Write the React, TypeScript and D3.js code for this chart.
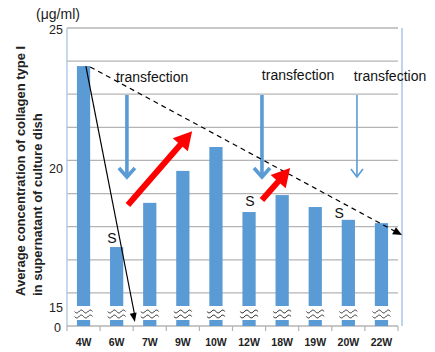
import React from "react";
import * as d3 from "d3";

// weeks after start, mean collagen I concentration (µg/ml)
const categories = ["4W", "6W", "7W", "9W", "10W", "12W", "18W", "19W", "20W", "22W"];
const values = [23.63, 17.12, 18.71, 19.86, 20.72, 18.38, 18.99, 18.56, 18.1, 17.98];
const yTickLabels = [25, 20, 15, 0];
const gridCount = 9;

// annotations, in category-index / value units
const transfectionLabels = [
  { i: 2.07, v: 23.06 },
  { i: 6.48, v: 23.13 },
  { i: 9.26, v: 23.09 },
];
const transfectionArrows = [
  { i: 1.31, from: 22.59, to: 19.64, heavy: true },
  { i: 5.39, from: 22.59, to: 19.64, heavy: true },
  { i: 8.26, from: 22.59, to: 19.64, heavy: false },
];
const riseArrows = [
  { i1: 1.34, v1: 18.63, i2: 3.28, v2: 21.29 },
  { i1: 5.39, v1: 18.81, i2: 6.24, v2: 19.96 },
];
const sLabels = [
  { i: 0.86, v: 17.27 },
  { i: 5.03, v: 18.6 },
  { i: 7.72, v: 18.17 },
];
const dropLine = { i1: 0.07, v1: 23.63, i2: 1.55, v2: 3.0 };
const trendLine = { i1: 0.2, v1: 23.6, i2: 9.62, v2: 17.55 };

const W = 435;
const H = 352;
const left = 67;
const right = 398;
const top = 28;
const bottom = 326;
const font = "'Liberation Sans', Arial, sans-serif";
const barColor = "#5b9bd5";

function head(x1: number, y1: number, x2: number, y2: number, len: number, hw: number) {
  const dx = x2 - x1;
  const dy = y2 - y1;
  const d = Math.hypot(dx, dy);
  const ux = dx / d;
  const uy = dy / d;
  const bx = x2 - ux * len;
  const by = y2 - uy * len;
  return `M${x2},${y2}L${bx - uy * hw},${by + ux * hw}L${bx + uy * hw},${by - ux * hw}Z`;
}

export default function App() {
  const x = d3.scaleBand().domain(categories).range([left, right]).paddingInner(0.6).paddingOuter(0.3);
  const xPos = d3.scaleLinear().domain([-0.5, categories.length - 0.5]).range([left, right]);
  const y = d3.scaleLinear().domain([0, 15, 25]).range([bottom, 306, top]);
  const grid = d3.scaleLinear().domain([0, gridCount]).range([bottom, top]);
  const bw = x.bandwidth();

  const wave = (cx: number, y0: number) => {
    const pts = d3.range(0, 19).map((k) => [cx - 9 + k, y0 + 1.6 * Math.sin((2 * Math.PI * k) / 9)] as [number, number]);
    return d3.line().curve(d3.curveBasis)(pts) || "";
  };

  const trend = {
    x1: xPos(trendLine.i1), y1: y(trendLine.v1),
    x2: xPos(trendLine.i2), y2: y(trendLine.v2),
  };
  const drop = {
    x1: xPos(dropLine.i1), y1: y(dropLine.v1),
    x2: xPos(dropLine.i2), y2: y(dropLine.v2),
  };

  return (
    <svg width={W} height={H} style={{ position: "absolute", left: 0, top: 0, background: "#fff" }} fontFamily={font}>
      {/* gridlines */}
      {d3.range(1, gridCount + 1).map((k) => (
        <line key={k} x1={left} x2={right} y1={grid(k)} y2={grid(k)} stroke="#b4b4b4" strokeWidth={1.3} />
      ))}
      {/* axes */}
      <line x1={left} x2={left} y1={top} y2={bottom} stroke="#a9c6e4" strokeWidth={1.3} />
      <line x1={402} x2={402} y1={top} y2={bottom} stroke="#a9c6e4" strokeWidth={1.5} />
      <line x1={left} x2={right} y1={bottom} y2={bottom} stroke="#b4b4b4" strokeWidth={1.3} />
      {d3.range(0, categories.length + 1).map((k) => (
        <line key={k} x1={xPos(k - 0.5)} x2={xPos(k - 0.5)} y1={bottom} y2={bottom + 5} stroke="#b4b4b4" strokeWidth={1.2} />
      ))}

      {/* bars with axis break */}
      {categories.map((c, i) => {
        const bx = x(c) as number;
        const cx = bx + bw / 2;
        return (
          <g key={c}>
            <rect x={bx} y={y(values[i])} width={bw} height={bottom - y(values[i])} fill={barColor} />
            <rect x={bx - 1} y={y(15)} width={bw + 2} height={14} fill="#fff" />
            <path d={wave(cx, 311.5)} fill="none" stroke="#333" strokeWidth={1} />
            <path d={wave(cx, 316.5)} fill="none" stroke="#333" strokeWidth={1} />
          </g>
        );
      })}

      {/* y labels */}
      {yTickLabels.map((v) => (
        <text key={v} x={v === 0 ? 61 : 63} y={y(v) + 2} dy="0.35em" textAnchor="end" fontSize={12.5} fill="#222">
          {v}
        </text>
      ))}
      <text x={58} y={14} dy="0.35em" textAnchor="middle" fontSize={14} fill="#222">
        (μg/ml)
      </text>
      <text transform="translate(25,296) rotate(-90)" fontSize={13} fontWeight="bold" fill="#222">
        <tspan x={0} y={0}>Average concentration of collagen type I</tspan>
        <tspan x={0} y={17}>in supernatant of culture dish</tspan>
      </text>

      {/* x labels */}
      {categories.map((c) => (
        <text key={c} x={(x(c) as number) + bw / 2} y={346} textAnchor="middle" fontSize={10.5} fontWeight="bold" fill="#222">
          {c}
        </text>
      ))}

      {/* transfection markers */}
      {transfectionLabels.map((t, k) => (
        <text key={k} x={xPos(t.i)} y={y(t.v)} textAnchor="middle" fontSize={14} fill="#111">
          transfection
        </text>
      ))}
      {transfectionArrows.map((a, k) => {
        const ax = xPos(a.i);
        const y1 = y(a.from);
        const y2 = y(a.to);
        const sw = a.heavy ? 3.6 : 1.6;
        const hw = a.heavy ? 8 : 6;
        const hl = a.heavy ? 9 : 8;
        return (
          <g key={k} stroke={barColor} fill="none" strokeWidth={sw}>
            <line x1={ax} x2={ax} y1={y1} y2={y2 - 1} />
            <path d={`M${ax - hw},${y2 - hl}L${ax},${y2}L${ax + hw},${y2 - hl}`} strokeLinejoin="miter" />
          </g>
        );
      })}

      {/* decline lines */}
      <line x1={trend.x1} y1={trend.y1} x2={trend.x2 - 6} y2={trend.y2 - 3.3} stroke="#000" strokeWidth={1.2} strokeDasharray="5,4" />
      <path d={head(trend.x1, trend.y1, trend.x2, trend.y2, 9, 4)} fill="#000" />
      <line x1={drop.x1} y1={drop.y1} x2={drop.x2} y2={drop.y2 - 6} stroke="#000" strokeWidth={1.2} />
      <path d={head(drop.x1, drop.y1, drop.x2, drop.y2, 9, 3.5)} fill="#000" />

      {/* recovery arrows */}
      {riseArrows.map((r, k) => {
        const x1 = xPos(r.i1);
        const y1 = y(r.v1);
        const x2 = xPos(r.i2);
        const y2 = y(r.v2);
        const d = Math.hypot(x2 - x1, y2 - y1);
        const ex = x2 - ((x2 - x1) / d) * 14;
        const ey = y2 - ((y2 - y1) / d) * 14;
        return (
          <g key={k}>
            <line x1={x1} y1={y1} x2={ex} y2={ey} stroke="#ff0000" strokeWidth={6} />
            <path d={head(x1, y1, x2, y2, 18, 10)} fill="#ff0000" />
          </g>
        );
      })}

      {/* S marks */}
      {sLabels.map((s, k) => (
        <text key={k} x={xPos(s.i)} y={y(s.v)} textAnchor="middle" fontSize={14} fill="#111">
          S
        </text>
      ))}
    </svg>
  );
}
